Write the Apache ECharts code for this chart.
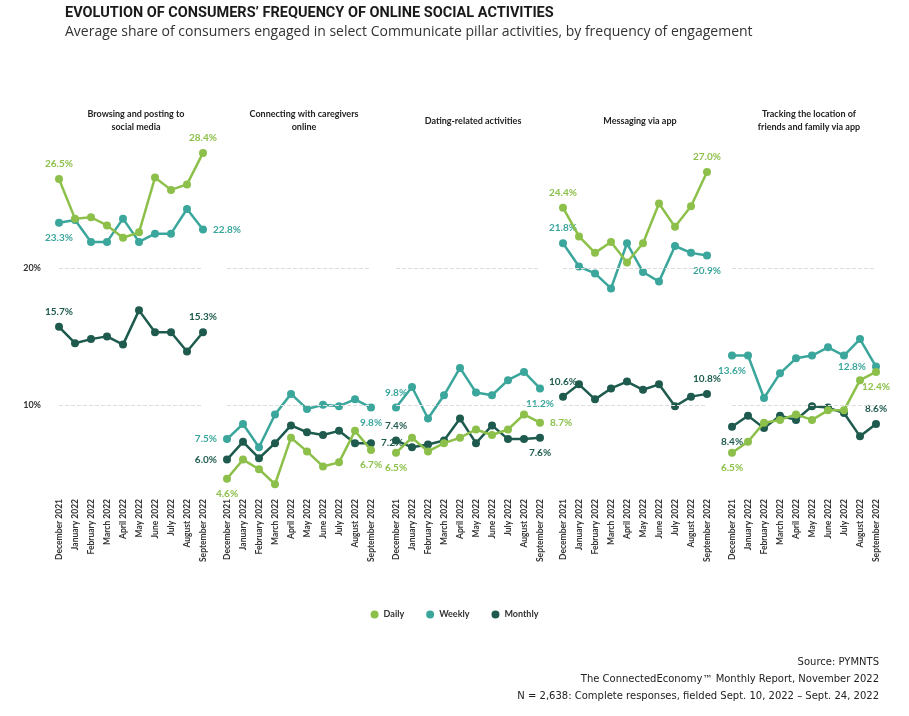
<!DOCTYPE html>
<html><head><meta charset="utf-8">
<script src="https://cdn.jsdelivr.net/npm/echarts@6/dist/echarts.min.js"></script>
<style>body{margin:0;background:#fff}#c{width:909px;height:716px}</style>
</head><body><div id="c"></div>
<script>
const months = ['December 2021','January 2022','February 2022','March 2022','April 2022','May 2022','June 2022','July 2022','August 2022','September 2022'];
const panels = ['Browsing and posting to\nsocial media','Connecting with caregivers\nonline','Dating-related activities','Messaging via app','Tracking the location of\nfriends and family via app'];
const daily = [
 [26.5,23.6,23.7,23.1,22.2,22.6,26.6,25.7,26.1,28.4],
 [4.6,6.0,5.3,4.2,7.6,6.6,5.5,5.8,8.1,6.7],
 [6.5,7.6,6.6,7.2,7.6,8.2,7.8,8.2,9.3,8.7],
 [24.4,22.3,21.1,21.9,20.4,21.8,24.7,23.0,24.5,27.0],
 [6.5,7.3,8.7,8.9,9.3,8.9,9.6,9.6,11.8,12.4]];
const weekly = [
 [23.3,23.5,21.9,21.9,23.6,21.9,22.5,22.5,24.3,22.8],
 [7.5,8.6,6.9,9.3,10.8,9.7,10.0,9.9,10.4,9.8],
 [9.8,11.3,9.0,10.7,12.7,10.9,10.7,11.8,12.4,11.2],
 [21.8,20.1,19.6,18.5,21.8,19.7,19.0,21.6,21.1,20.9],
 [13.6,13.6,10.5,12.3,13.4,13.6,14.2,13.6,14.8,12.8]];
const monthly = [
 [15.7,14.5,14.8,15.0,14.4,16.9,15.3,15.3,13.9,15.3],
 [6.0,7.3,6.1,7.2,8.5,8.0,7.8,8.1,7.2,7.2],
 [7.4,6.9,7.1,7.4,9.0,7.2,8.5,7.5,7.5,7.6],
 [10.6,11.5,10.4,11.2,11.7,11.1,11.5,9.9,10.6,10.8],
 [8.4,9.2,8.3,9.2,8.9,9.9,9.8,9.4,7.7,8.6]];
const yTicks = [10,20];
const footer = ['Source: PYMNTS','The ConnectedEconomy™ Monthly Report, November 2022','N = 2,638: Complete responses, fielded Sept. 10, 2022 – Sept. 24, 2022'];
const pos = {
 Daily:[['top','top'],['bottom','bottom'],['bottom','right'],['top','top'],['bottom','bottom']],
 Weekly:[['bottom','right'],['left','bottom'],['top','bottom'],['top','bottom'],['bottom','left']],
 Monthly:[['top','top'],['left','right'],['top','bottom'],['top','top'],['bottom','top']]
};
const colors = {Daily:'#8cc04a',Weekly:'#3ba69b',Monthly:'#1e5b4e'};
const lefts = [59,227,396,563,732];
const grids=[],xAxes=[],yAxes=[],series=[],titles=[];
panels.forEach((p,i)=>{
  grids.push({left:lefts[i],width:144,top:131,height:356});
  xAxes.push({type:'category',gridIndex:i,data:months,boundaryGap:false,
    axisLine:{show:false},axisTick:{show:false},
    axisLabel:{rotate:90,interval:0,fontSize:8.5,fontWeight:'bold',color:'#333',margin:12,fontFamily:'Lato'}});
  yAxes.push({type:'value',gridIndex:i,min:4,max:30,splitLine:{show:false},axisLine:{show:false},axisTick:{show:false},
    axisLabel:{show:i===0,customValues:yTicks,formatter:v=>v+'%',fontSize:9,fontWeight:'bold',color:'#333',margin:18,fontFamily:'Lato'}});
  titles.push({text:p,left:lefts[i]+72,top:p.includes('\n')?103:110,textAlign:'center',
    textStyle:{fontSize:9,fontWeight:'bold',color:'#222',lineHeight:13,fontFamily:'Lato'}});
  [['Daily',daily],['Weekly',weekly],['Monthly',monthly]].forEach(([name,arr],k)=>{
    const d=arr[i];
    series.push({name,type:'line',xAxisIndex:i,yAxisIndex:i,symbol:'circle',symbolSize:8,
      itemStyle:{color:colors[name]},lineStyle:{width:2.5,color:colors[name]},
      data:d.map((v,j)=>{
        const o={value:v};
        if(j===0||j===d.length-1){
          o.label={show:true,position:pos[name][i][j===0?0:1],formatter:x=>x.value.toFixed(1)+'%',
            color:colors[name],fontWeight:'bold',fontSize:10,fontFamily:'Lato',distance:6};
        }
        return o;}),
      markLine:k===0?{silent:true,symbol:'none',label:{show:false},
        lineStyle:{color:'#ddd',type:'dashed',width:1},data:yTicks.map(t=>({yAxis:t}))}:undefined,
      z:3-k});
  });
});
titles.unshift({text:'EVOLUTION OF CONSUMERS’ FREQUENCY OF ONLINE SOCIAL ACTIVITIES',
  subtext:'Average share of consumers engaged in select Communicate pillar activities, by frequency of engagement',
  left:60,top:1,itemGap:4,textStyle:{fontSize:14.5,fontWeight:'bold',color:'#1a1a1a',fontFamily:'Roboto'},
  subtextStyle:{fontSize:14,color:'#333',fontFamily:'Open Sans'}});
footer.forEach((t,i)=>titles.push({text:t,right:25,top:652+i*17,
  textStyle:{fontSize:10,fontWeight:'normal',color:'#222',fontFamily:'DejaVu Sans'}}));
const chart=echarts.init(document.getElementById('c'));
chart.setOption({animation:false,title:titles,grid:grids,xAxis:xAxes,yAxis:yAxes,series,
  legend:{data:['Daily','Weekly','Monthly'],bottom:92,left:'center',icon:'circle',itemWidth:8,itemHeight:8,itemGap:22,
    textStyle:{fontSize:9,fontWeight:'bold',color:'#333',fontFamily:'Lato'}}});
</script></body></html>
